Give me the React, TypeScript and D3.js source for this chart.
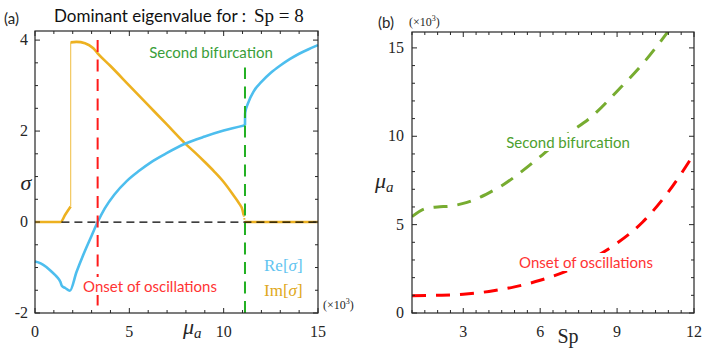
import React, { useEffect, useRef } from 'react';
import * as d3 from 'd3';

// ---------- Panel (a) data: dominant eigenvalue vs mu_a (x10^3), Sp = 8 ----------
const RE_BEFORE: [number, number][] = [
  [0, -0.87], [0.3, -0.91], [0.6, -0.99], [0.9, -1.1], [1.15, -1.2], [1.35, -1.32],
  [1.42, -1.4], [1.6, -1.45], [1.85, -1.51], [2.2, -1.1], [2.6, -0.68], [3.0, -0.3],
  [3.32, 0], [3.7, 0.3], [4.2, 0.6], [4.86, 0.9], [5.5, 1.12], [6.2, 1.33], [7.0, 1.52],
  [7.95, 1.72], [9.0, 1.88], [10.0, 2.01], [11.13, 2.13],
];
const RE_AFTER: [number, number][] = [
  [11.13, 2.13], [11.14, 2.4], [11.3, 2.62], [11.6, 2.88], [12.0, 3.08], [12.5, 3.28],
  [13.0, 3.44], [13.5, 3.58], [14.0, 3.7], [14.5, 3.8], [15.0, 3.89],
];
const IM_LOW: [number, number][] = [[0, 0], [1.36, 0], [1.6, 0.16], [1.89, 0.34]];
const IM_JUMP: [number, number][] = [[1.89, 0.34], [1.89, 3.95]];
const IM_HIGH: [number, number][] = [
  [1.89, 3.95], [2.2, 3.96], [2.65, 3.93], [3.09, 3.82], [3.32, 3.71], [4, 3.43], [5, 3.0],
  [6, 2.57], [7, 2.14], [7.95, 1.73], [8.5, 1.52], [9, 1.32], [9.5, 1.11], [10, 0.88],
  [10.5, 0.6], [10.8, 0.42], [11.0, 0.26], [11.06, 0.15],
];
const IM_DROP: [number, number][] = [[11.06, 0.15], [11.13, 0]];
const IM_ZERO: [number, number][] = [[11.13, 0], [15, 0]];
const ZERO_LINE: [number, number][] = [[1.4, 0], [15, 0]];
const ONSET_LINE: [number, number][] = [[3.32, 4], [3.32, -2]];
const BIF_LINE: [number, number][] = [[11.13, -2], [11.13, 3.4]];

const A_X_DOMAIN = [0, 15];
const A_Y_DOMAIN = [-2, 4.2];
const A_X_TICKS = [0, 5, 10, 15];
const A_Y_TICKS = [-2, 0, 2, 4];
const A_Y_TICK_LABELS = ['-2', '0', '2', '4'];

// ---------- Panel (b) data: thresholds vs Sp ----------
const SP_ONSET = [1, 2, 3, 4, 5, 6, 7, 8, 9, 10, 11, 12];
const MU_ONSET = [0.98, 1.0, 1.06, 1.22, 1.48, 1.85, 2.35, 3.05, 3.95, 5.15, 6.85, 9.0];
const SP_BIF = [1, 1.5, 2, 2.5, 3, 3.5, 4, 4.5, 5, 6, 7, 8, 9, 10, 11];
const MU_BIF = [5.45, 5.9, 6.0, 6.05, 6.2, 6.45, 6.8, 7.2, 7.7, 8.85, 10.05, 11.1, 12.55, 14.1, 15.95];

const B_X_DOMAIN = [1, 12];
const B_Y_DOMAIN = [0, 15.9];
const B_X_TICKS = [3, 6, 9, 12];
const B_Y_TICKS = [0, 5, 10, 15];

const AXIS = '#262626';
const BLUE = '#4DBEEE';
const ORANGE = '#EDB120';
const SERIF = '"Liberation Serif", "DejaVu Serif", serif';
const SANS = 'Lato, "Open Sans", sans-serif';

export default function App() {
  const ref = useRef<SVGSVGElement>(null);

  useEffect(() => {
    const svg = d3.select(ref.current!);
    svg.selectAll('*').remove();

    const frame = (
      x: d3.ScaleLinear<number, number>,
      y: d3.ScaleLinear<number, number>,
      xMinorStep: number,
      yMinorStep: number,
      xMajor: number[],
      yMajor: number[],
    ) => {
      const g = svg.append('g');
      const [x0, x1] = x.range();
      const [y0, y1] = y.range();
      const xd = x.domain();
      const yd = y.domain();
      const xMinor = d3.range(Math.ceil(xd[0] / xMinorStep) * xMinorStep, xd[1] + 1e-9, xMinorStep);
      const yMinor = d3.range(Math.ceil(yd[0] / yMinorStep) * yMinorStep, yd[1] + 1e-9, yMinorStep);
      const isMajor = (v: number, arr: number[]) => arr.some((m) => Math.abs(m - v) < 1e-6);
      xMinor.forEach((v) => {
        const L = isMajor(v, xMajor) ? 5 : 3;
        const px = x(v);
        g.append('line').attr('x1', px).attr('x2', px).attr('y1', y0).attr('y2', y0 - L).attr('stroke', AXIS);
        g.append('line').attr('x1', px).attr('x2', px).attr('y1', y1).attr('y2', y1 + L).attr('stroke', AXIS);
      });
      yMinor.forEach((v) => {
        const L = isMajor(v, yMajor) ? 5 : 3;
        const py = y(v);
        g.append('line').attr('y1', py).attr('y2', py).attr('x1', x0).attr('x2', x0 + L).attr('stroke', AXIS);
        g.append('line').attr('y1', py).attr('y2', py).attr('x1', x1).attr('x2', x1 - L).attr('stroke', AXIS);
      });
      g.append('rect')
        .attr('x', x0).attr('y', y1).attr('width', x1 - x0).attr('height', y0 - y1)
        .attr('fill', 'none').attr('stroke', AXIS).attr('stroke-width', 1.2);
      return g;
    };

    const label = (
      txt: string, px: number, py: number, opts: { size?: number; family?: string; anchor?: string; color?: string; italic?: boolean } = {},
    ) => svg.append('text')
      .attr('x', px).attr('y', py)
      .attr('font-size', opts.size ?? 16)
      .attr('font-family', opts.family ?? SERIF)
      .attr('font-style', opts.italic ? 'italic' : 'normal')
      .attr('text-anchor', opts.anchor ?? 'start')
      .attr('fill', opts.color ?? AXIS)
      .text(txt);

    const bgText = (txt: string, px: number, py: number, color: string, size: number) => {
      const rect = svg.append('rect').attr('fill', '#fff');
      const t = label(txt, px, py, { size, family: SANS, anchor: 'middle', color });
      const bb = (t.node() as SVGTextElement).getBBox();
      rect.attr('x', bb.x - 2).attr('y', bb.y).attr('width', bb.width + 4).attr('height', bb.height);
      t.raise();
    };

    // ================= Panel (a) =================
    const xA = d3.scaleLinear().domain(A_X_DOMAIN).range([35, 318]);
    const yA = d3.scaleLinear().domain(A_Y_DOMAIN).range([313, 31]);
    const lineA = d3.line<[number, number]>().x((d) => xA(d[0])).y((d) => yA(d[1]));
    const smoothA = d3.line<[number, number]>().x((d) => xA(d[0])).y((d) => yA(d[1])).curve(d3.curveMonotoneX);

    const gA = svg.append('g');
    gA.append('path').attr('d', smoothA(IM_LOW)).attr('fill', 'none').attr('stroke', ORANGE).attr('stroke-width', 2.6);
    gA.append('path').attr('d', lineA(IM_JUMP)).attr('fill', 'none').attr('stroke', '#F3C860').attr('stroke-width', 1.2);
    gA.append('path').attr('d', smoothA(IM_HIGH)).attr('fill', 'none').attr('stroke', ORANGE).attr('stroke-width', 2.6);
    gA.append('path').attr('d', lineA(IM_DROP)).attr('fill', 'none').attr('stroke', ORANGE).attr('stroke-width', 2).attr('stroke-dasharray', '1.5,1.5');
    gA.append('path').attr('d', lineA(IM_ZERO)).attr('fill', 'none').attr('stroke', ORANGE).attr('stroke-width', 2.6);
    gA.append('path').attr('d', smoothA(RE_BEFORE)).attr('fill', 'none').attr('stroke', BLUE).attr('stroke-width', 2.6);
    gA.append('path').attr('d', smoothA(RE_AFTER)).attr('fill', 'none').attr('stroke', BLUE).attr('stroke-width', 2.6);
    gA.append('path').attr('d', lineA(ZERO_LINE)).attr('fill', 'none').attr('stroke', '#000').attr('stroke-width', 1.3).attr('stroke-dasharray', '8,5');
    gA.append('path').attr('d', lineA(ONSET_LINE)).attr('fill', 'none').attr('stroke', '#FF1A1A').attr('stroke-width', 2).attr('stroke-dasharray', '12,7.5');
    gA.append('path').attr('d', lineA(BIF_LINE)).attr('fill', 'none').attr('stroke', '#22B022').attr('stroke-width', 2).attr('stroke-dasharray', '12,7.5');

    frame(xA, yA, 1, 0.5, A_X_TICKS, A_Y_TICKS);

    bgText('Second bifurcation', 211, 58, '#3A9E3A', 15);
    bgText('Onset of oscillations', 150, 292, '#FF3333', 15);

    A_X_TICKS.forEach((v) => label(String(v), xA(v), 337, { size: 16, anchor: 'middle' }));
    A_Y_TICKS.forEach((v, i) => label(A_Y_TICK_LABELS[i], 28, yA(v) + 5, { size: 16, anchor: 'end' }));

    label('σ', 26, 190, { size: 22, italic: true, anchor: 'middle' });
    const muA = svg.append('text').attr('x', 183).attr('y', 334).attr('font-family', SERIF).attr('font-style', 'italic').attr('fill', AXIS);
    muA.append('tspan').attr('font-size', 22).text('μ');
    muA.append('tspan').attr('font-size', 15).attr('dy', 4).text('a');

    const re = svg.append('text').attr('x', 264).attr('y', 271).attr('font-family', SERIF).attr('font-size', 17).attr('fill', '#62C4F0');
    re.append('tspan').text('Re[');
    re.append('tspan').attr('font-style', 'italic').text('σ');
    re.append('tspan').text(']');
    const im = svg.append('text').attr('x', 264).attr('y', 296).attr('font-family', SERIF).attr('font-size', 17).attr('fill', '#E0A820');
    im.append('tspan').text('Im[');
    im.append('tspan').attr('font-style', 'italic').text('σ');
    im.append('tspan').text(']');

    const expA = svg.append('text').attr('x', 323).attr('y', 309).attr('font-family', SERIF).attr('font-size', 12).attr('fill', AXIS);
    expA.append('tspan').text('(×10');
    expA.append('tspan').attr('font-size', 8).attr('dy', -5).text('3');
    expA.append('tspan').attr('dy', 5).text(')');

    label('(a)', 4, 24, { size: 15, family: SANS });
    const title = svg.append('text').attr('x', 54).attr('y', 22).attr('fill', '#111');
    title.append('tspan').attr('font-family', SANS).attr('font-size', 17).text('Dominant eigenvalue for :');
    title.append('tspan').attr('font-family', SERIF).attr('font-size', 19).attr('dx', 8).text('Sp = 8');

    // ================= Panel (b) =================
    const xB = d3.scaleLinear().domain(B_X_DOMAIN).range([412, 694]);
    const yB = d3.scaleLinear().domain(B_Y_DOMAIN).range([313, 32]);

    const onsetPts = SP_ONSET.map((s, i) => [xB(s), yB(MU_ONSET[i])] as [number, number]);
    const bifPts = SP_BIF.map((s, i) => [xB(s), yB(MU_BIF[i])] as [number, number]);
    const clipId = 'clipB';
    svg.append('clipPath').attr('id', clipId).append('rect')
      .attr('x', 412).attr('y', 32).attr('width', 282).attr('height', 281);
    const gB = svg.append('g').attr('clip-path', `url(#${clipId})`);
    const ln = d3.line<[number, number]>().curve(d3.curveMonotoneX);
    gB.append('path').attr('d', ln(bifPts)).attr('fill', 'none').attr('stroke', '#77AC30').attr('stroke-width', 3).attr('stroke-dasharray', '14,10');
    gB.append('path').attr('d', ln(onsetPts)).attr('fill', 'none').attr('stroke', '#FF0000').attr('stroke-width', 3).attr('stroke-dasharray', '14,10');

    frame(xB, yB, 0.5, 1, B_X_TICKS, B_Y_TICKS);

    bgText('Second bifurcation', 568, 148, '#4DA02E', 15);
    bgText('Onset of oscillations', 586, 268, '#FF3333', 15);

    B_X_TICKS.forEach((v) => label(String(v), xB(v), 337, { size: 16, anchor: 'middle' }));
    B_Y_TICKS.forEach((v) => label(String(v), 404, yB(v) + 5, { size: 16, anchor: 'end' }));

    label('Sp', 568, 343, { size: 20, anchor: 'middle' });
    const muB = svg.append('text').attr('x', 375).attr('y', 188).attr('font-family', SERIF).attr('font-style', 'italic').attr('fill', AXIS);
    muB.append('tspan').attr('font-size', 22).text('μ');
    muB.append('tspan').attr('font-size', 15).attr('dy', 4).text('a');

    label('(b)', 378, 28, { size: 15, family: SANS });
    const expB = svg.append('text').attr('x', 409).attr('y', 26).attr('font-family', SERIF).attr('font-size', 12).attr('fill', AXIS);
    expB.append('tspan').text('(×10');
    expB.append('tspan').attr('font-size', 8).attr('dy', -5).text('3');
    expB.append('tspan').attr('dy', 5).text(')');
  }, []);

  return (
    <svg
      ref={ref}
      width={706}
      height={351}
      style={{ position: 'absolute', left: 0, top: 0, background: '#fff', display: 'block' }}
    />
  );
}
